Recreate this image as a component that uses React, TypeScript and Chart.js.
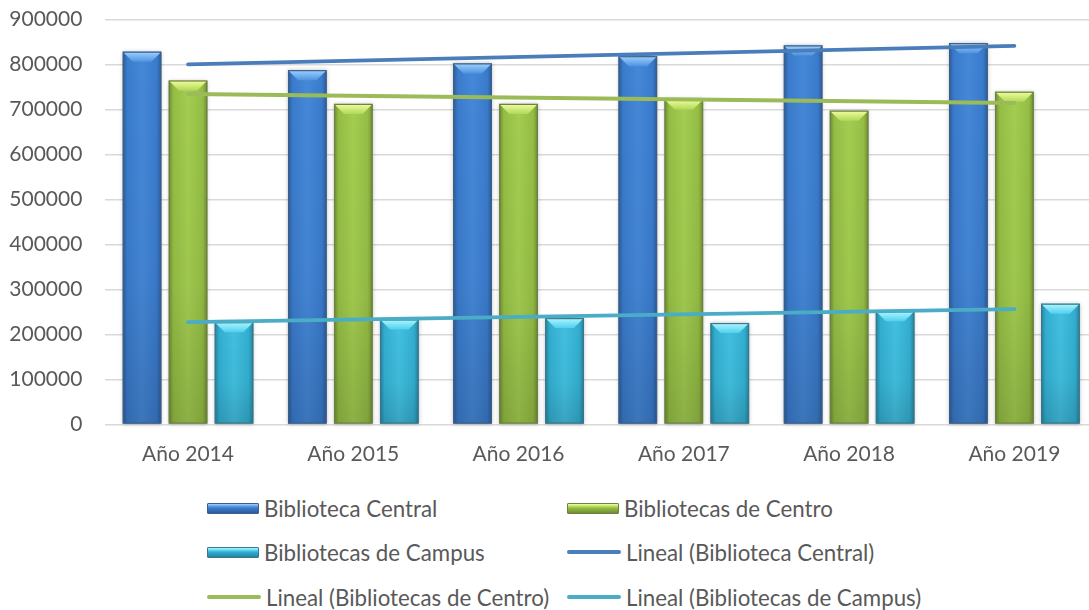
import React, { useEffect, useRef } from "react";
import { Chart, registerables } from "chart.js";

Chart.register(...registerables);

const categories = ["Año 2014", "Año 2015", "Año 2016", "Año 2017", "Año 2018", "Año 2019"];
const central = [828000, 787000, 802000, 818000, 842000, 847000];
const centro = [764000, 712000, 712000, 722000, 697000, 739000];
const campus = [227000, 233000, 236000, 225000, 251000, 268000];
// trendline end points (first and last category)
const trendCentral = [800000, null, null, null, null, 841000];
const trendCentro = [734000, null, null, null, null, 714000];
const trendCampus = [227000, null, null, null, null, 256000];
const yTicksMax = 900000;
const yStep = 100000;

const FONT = "Lato";
const TEXT = "#595959";

type BarStyle = { dark: string; mid: string; light: string; topA: string; topB: string; border: string };
const barStyles: BarStyle[] = [
  { dark: "#2b5c9a", mid: "#3a7bcc", light: "#4588d8", topA: "#9fd2ff", topB: "#4f93e0", border: "#3d5f86" },
  { dark: "#6e8e2c", mid: "#94bd45", light: "#a3cd50", topA: "#f0ff9e", topB: "#b2d85a", border: "#6e7f4a" },
  { dark: "#1f86a4", mid: "#33aecf", light: "#42bfe0", topA: "#b0f6ff", topB: "#4fd0ef", border: "#3d7688" },
];

const barLabels = ["Biblioteca Central", "Bibliotecas de Centro", "Bibliotecas de Campus"];
const lineLabels = ["Lineal (Biblioteca Central)", "Lineal (Bibliotecas de Centro)", "Lineal (Bibliotecas de Campus)"];
const lineColors = ["#4a7ebb", "#9bbb59", "#4bacc6"];

const bevelPlugin = {
  id: "bevel",
  afterDatasetDraw(chart: any, args: any) {
    const st = barStyles[args.index];
    if (!st || args.meta.type !== "bar") return;
    const ctx: CanvasRenderingContext2D = chart.ctx;
    args.meta.data.forEach((el: any) => {
      const { x, y, base, width } = el.getProps(["x", "y", "base", "width"], true);
      const l = x - width / 2;
      const r = x + width / 2;
      const t = Math.min(y, base);
      const b = Math.max(y, base);
      ctx.save();
      ctx.shadowColor = "rgba(0,0,0,0.25)";
      ctx.shadowBlur = 4;
      const g = ctx.createLinearGradient(l, 0, r, 0);
      g.addColorStop(0, st.dark);
      g.addColorStop(0.12, st.mid);
      g.addColorStop(0.5, st.light);
      g.addColorStop(0.88, st.mid);
      g.addColorStop(1, st.dark);
      ctx.fillStyle = g;
      ctx.fillRect(l, t, width, b - t);
      ctx.shadowBlur = 0;
      ctx.shadowColor = "transparent";
      const gv = ctx.createLinearGradient(0, t, 0, b);
      gv.addColorStop(0, "rgba(0,0,0,0)");
      gv.addColorStop(0.6, "rgba(0,0,0,0.03)");
      gv.addColorStop(1, "rgba(0,0,0,0.14)");
      ctx.fillStyle = gv;
      ctx.fillRect(l, t, width, b - t);
      const bv = Math.min(10, (b - t) / 2);
      ctx.beginPath();
      ctx.moveTo(l, t);
      ctx.lineTo(r, t);
      ctx.lineTo(r - bv, t + bv);
      ctx.lineTo(l + bv, t + bv);
      ctx.closePath();
      const gt = ctx.createLinearGradient(0, t, 0, t + bv);
      gt.addColorStop(0, st.topA);
      gt.addColorStop(1, st.topB);
      ctx.fillStyle = gt;
      ctx.fill();
      ctx.strokeStyle = st.border;
      ctx.lineWidth = 1.2;
      ctx.strokeRect(l + 0.5, t + 0.5, width - 1, b - t - 1);
      ctx.restore();
    });
  },
};

const legendItems = [
  { label: barLabels[0], kind: "bar", idx: 0 },
  { label: barLabels[1], kind: "bar", idx: 1 },
  { label: barLabels[2], kind: "bar", idx: 2 },
  { label: lineLabels[0], kind: "line", idx: 0 },
  { label: lineLabels[1], kind: "line", idx: 1 },
  { label: lineLabels[2], kind: "line", idx: 2 },
];
const legendCols = [207, 567];
const legendRows = [508, 552, 597];

export default function App() {
  const ref = useRef<HTMLCanvasElement | null>(null);

  useEffect(() => {
    if (!ref.current) return;
    const barDs = [central, centro, campus].map((d, i) => ({
      type: "bar" as const,
      label: barLabels[i],
      data: d,
      backgroundColor: barStyles[i].mid,
      borderColor: barStyles[i].border,
      borderWidth: 1,
      categoryPercentage: 0.835,
      barPercentage: 0.837,
      order: 1,
    }));
    const lineDs = [trendCentral, trendCentro, trendCampus].map((d, i) => ({
      type: "line" as const,
      label: lineLabels[i],
      data: d,
      borderColor: lineColors[i],
      backgroundColor: lineColors[i],
      borderWidth: 3.8,
      borderCapStyle: "round" as const,
      pointRadius: 0,
      spanGaps: true,
      fill: false,
      order: 0,
    }));
    const chart = new Chart(ref.current, {
      type: "bar",
      data: { labels: categories, datasets: [...barDs, ...lineDs] as any },
      plugins: [bevelPlugin],
      options: {
        animation: false,
        responsive: false,
        devicePixelRatio: 1,
        layout: { padding: { top: 19.3, right: 3, left: 0, bottom: 0 } },
        plugins: { legend: { display: false }, tooltip: { enabled: false } },
        scales: {
          x: {
            grid: { display: false, drawTicks: false },
            border: { display: false },
            ticks: { font: { family: FONT, size: 21 }, color: TEXT, padding: 17 },
            afterFit: (s: any) => {
              s.height = 480 - 424.3;
            },
          },
          y: {
            min: 0,
            max: yTicksMax,
            ticks: {
              stepSize: yStep,
              font: { family: FONT, size: 21 },
              color: TEXT,
              padding: 0,
              callback: (v: any) => String(v),
            },
            grid: {
              color: "#d9d9d9",
              lineWidth: 1.5,
              drawTicks: true,
              tickLength: 23,
              tickColor: "rgba(0,0,0,0)",
            },
            border: { display: false },
            afterFit: (s: any) => {
              s.width = 105.4;
            },
          },
        },
      },
    });
    return () => chart.destroy();
  }, []);

  return (
    <div
      style={{
        position: "fixed",
        left: 0,
        top: 0,
        width: 1089,
        height: 610,
        overflow: "hidden",
        background: "#fff",
      }}
    >
      <canvas ref={ref} width={1100} height={480} style={{ position: "absolute", left: 0, top: 0 }} />
      {legendItems.map((it, i) => {
        const col = legendCols[i % 2];
        const row = legendRows[Math.floor(i / 2)];
        const st = barStyles[it.idx];
        const marker =
          it.kind === "bar" ? (
            <div
              style={{
                width: 52,
                height: 11,
                boxSizing: "border-box",
                border: `1px solid ${st.border}`,
                background: `linear-gradient(to bottom, ${st.topA} 0%, ${st.topB} 30%, ${st.mid} 45%, ${st.dark} 100%)`,
                borderRadius: 1,
                flex: "none",
              }}
            />
          ) : (
            <div
              style={{
                width: 54,
                height: 4,
                borderRadius: 2,
                background: lineColors[it.idx],
                flex: "none",
              }}
            />
          );
        return (
          <div
            key={i}
            style={{
              position: "absolute",
              left: col,
              top: row - 15,
              height: 30,
              display: "flex",
              alignItems: "center",
              gap: 5,
              whiteSpace: "nowrap",
              fontFamily: FONT,
              fontSize: 22.3,
              color: TEXT,
            }}
          >
            {marker}
            <span>{it.label}</span>
          </div>
        );
      })}
    </div>
  );
}
